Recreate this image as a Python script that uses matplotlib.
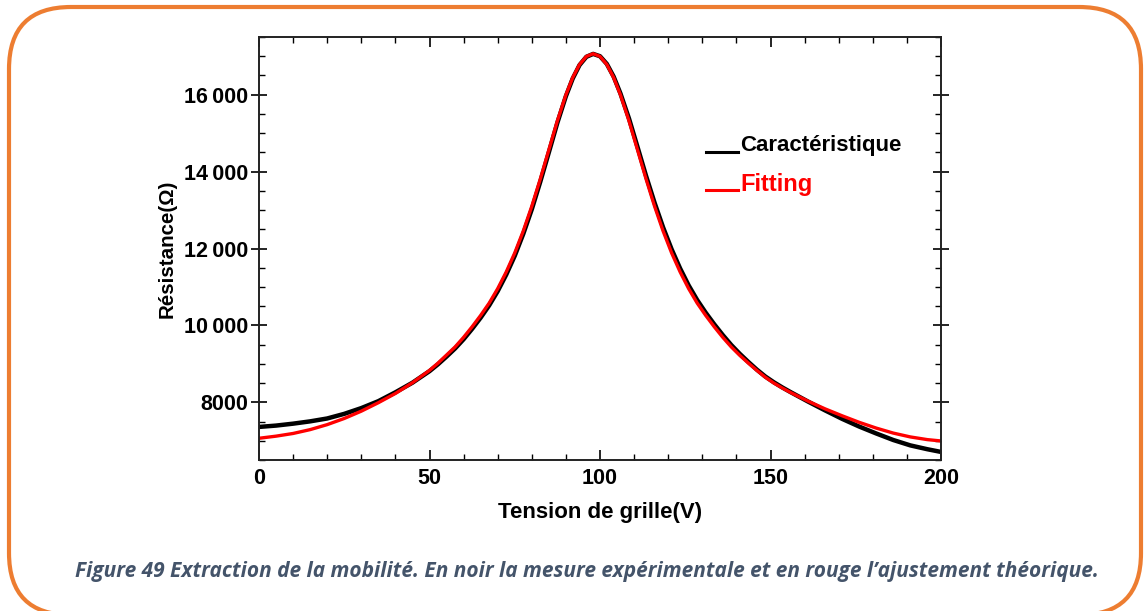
import numpy as np
import matplotlib
matplotlib.use("Agg")
import matplotlib.pyplot as plt
from matplotlib.patches import FancyBboxPatch
from matplotlib.lines import Line2D

# gate voltage (V) and resistance (ohm): measured curve
v_meas = [0, 5, 10, 15, 20, 25, 30, 35, 40, 45, 50, 52.5, 55, 57.5, 60, 62.5, 65, 67.5, 70,
          72.5, 75, 77.5, 80, 82.5, 85, 87.5, 90, 92, 94, 96, 98, 100, 102, 104, 106, 108.5,
          111, 113.5, 116, 118.5, 121, 123.5, 126, 128.5, 131, 133.5, 136, 138.5, 141, 143.5,
          146, 148.5, 151, 153.5, 156, 158.5, 161, 166, 171, 176, 181, 186, 191, 196, 200]
r_meas = [7360, 7395, 7445, 7505, 7580, 7700, 7850, 8030, 8260, 8510, 8810, 8990, 9190, 9400,
          9640, 9910, 10200, 10520, 10890, 11320, 11810, 12380, 13020, 13740, 14500, 15270,
          15960, 16420, 16770, 16985, 17060, 17000, 16800, 16470, 16030, 15380, 14640, 13890,
          13190, 12550, 11980, 11480, 11040, 10660, 10330, 10030, 9750, 9490, 9260, 9050,
          8850, 8670, 8520, 8385, 8260, 8140, 8020, 7790, 7570, 7370, 7190, 7020, 6880, 6780,
          6710]

# fitted curve
v_fit = [0, 5, 10, 15, 20, 25, 30, 35, 40, 45, 50, 52.5, 55, 57.5, 60, 62.5, 65, 67.5, 70,
         72.5, 75, 77.5, 80, 82.5, 85, 87.5, 90, 92, 94, 96, 98, 100, 102, 104, 106, 108.5,
         111, 113.5, 116, 118.5, 121, 123.5, 126, 128.5, 131, 133.5, 136, 138.5, 141, 143.5,
         146, 148.5, 151, 153.5, 156, 158.5, 161, 166, 171, 176, 181, 186, 191, 196, 200]
r_fit = [7065, 7120, 7190, 7290, 7420, 7580, 7770, 7990, 8230, 8510, 8830, 9020, 9230, 9440,
         9690, 9965, 10260, 10580, 10956, 11390, 11885, 12455, 13099, 13810, 14565, 15320,
         15995, 16445, 16785, 16995, 17065, 16995, 16785, 16445, 15995, 15320, 14565, 13810,
         13099, 12455, 11885, 11390, 10956, 10580, 10260, 9965, 9690, 9440, 9220, 9020,
         8830, 8650, 8500, 8370, 8250, 8140, 8030, 7830, 7650, 7480, 7330, 7200, 7100, 7030,
         6995]

x_ticks = [0, 50, 100, 150, 200]
y_ticks = [8000, 10000, 12000, 14000, 16000]
y_ticklabels = ["8000", "10\u2009000", "12\u2009000", "14\u2009000", "16\u2009000"]

plt.rcParams['font.family'] = ['Liberation Sans', 'DejaVu Sans']

fig = plt.figure(figsize=(11.45, 6.11), dpi=100)
ax = fig.add_axes([259/1145, 1-460/611, 682/1145, 423/611])

ax.plot(v_meas, r_meas, color='black', lw=3.2, solid_capstyle='round', solid_joinstyle='round')
ax.plot(v_fit, r_fit, color='#ff0000', lw=2.4, solid_capstyle='round', solid_joinstyle='round')

ax.set_xlim(0, 200)
ax.set_ylim(6500, 17500)
ax.set_xticks(x_ticks)
ax.set_xticks(np.arange(0, 201, 10), minor=True)
ax.set_yticks(y_ticks)
ax.set_yticklabels(y_ticklabels)
ax.set_yticks(np.arange(6500, 17501, 500), minor=True)

for lab in ax.get_xticklabels() + ax.get_yticklabels():
    lab.set_fontweight('bold')
    lab.set_fontsize(15.5)

ax.tick_params(axis='x', which='major', direction='in', length=7, width=1.2,
               top=True, pad=6)
ax.tick_params(axis='x', which='minor', direction='in', length=4, width=1.0, top=True)
ax.tick_params(axis='y', which='major', direction='inout', length=12, width=1.2,
               right=True, pad=2)
ax.tick_params(axis='y', which='minor', direction='in', length=4, width=1.0, right=True)
for sp in ax.spines.values():
    sp.set_linewidth(1.4)
    sp.set_color('#222222')

ax.set_xlabel("Tension de grille(V)", fontsize=16, fontweight='bold')
ax.set_ylabel("Résistance(Ω)", fontsize=14.8, fontweight='bold')
ax.xaxis.set_label_coords(0.5, -0.125)
ax.xaxis.label.set_va('center')
ax.yaxis.set_label_coords(-0.135, 0.5)
ax.yaxis.label.set_va('center')

# legend drawn by hand: short line at the text baseline
ax.add_line(Line2D([0.655, 0.702], [0.728, 0.728], transform=ax.transAxes,
                   color='black', lw=2.2))
ax.text(0.706, 0.744, "Caractéristique", transform=ax.transAxes, fontsize=16,
        fontweight='bold', color='black', va='center', ha='left')
ax.add_line(Line2D([0.655, 0.702], [0.638, 0.638], transform=ax.transAxes,
                   color='#ff0000', lw=2.2))
ax.text(0.706, 0.652, "Fitting", transform=ax.transAxes, fontsize=17,
        fontweight='bold', color='#ff0000', va='center', ha='left')

# orange rounded frame around the figure
frame = FancyBboxPatch((9, -4), 1132, 608, boxstyle="round,pad=0,rounding_size=62",
                       transform=None, fill=False, edgecolor='#ed7d31', lw=3.0,
                       clip_on=False)
fig.patches.append(frame)

caption = fig.text(75/1145, 1-571/611,
                   "Figure 49 Extraction de la mobilité. En noir la mesure expérimentale "
                   "et en rouge l’ajustement théorique.",
                   fontsize=14, fontweight='bold', fontstyle='italic', family='Open Sans',
                   color='#44546a', ha='left', va='center')
# scale the caption so it runs to x = 1105 px
fig.canvas.draw()
w = caption.get_window_extent().width
caption.set_fontsize(14 * 1030 / w)

fig.savefig("out.png", dpi=100)
